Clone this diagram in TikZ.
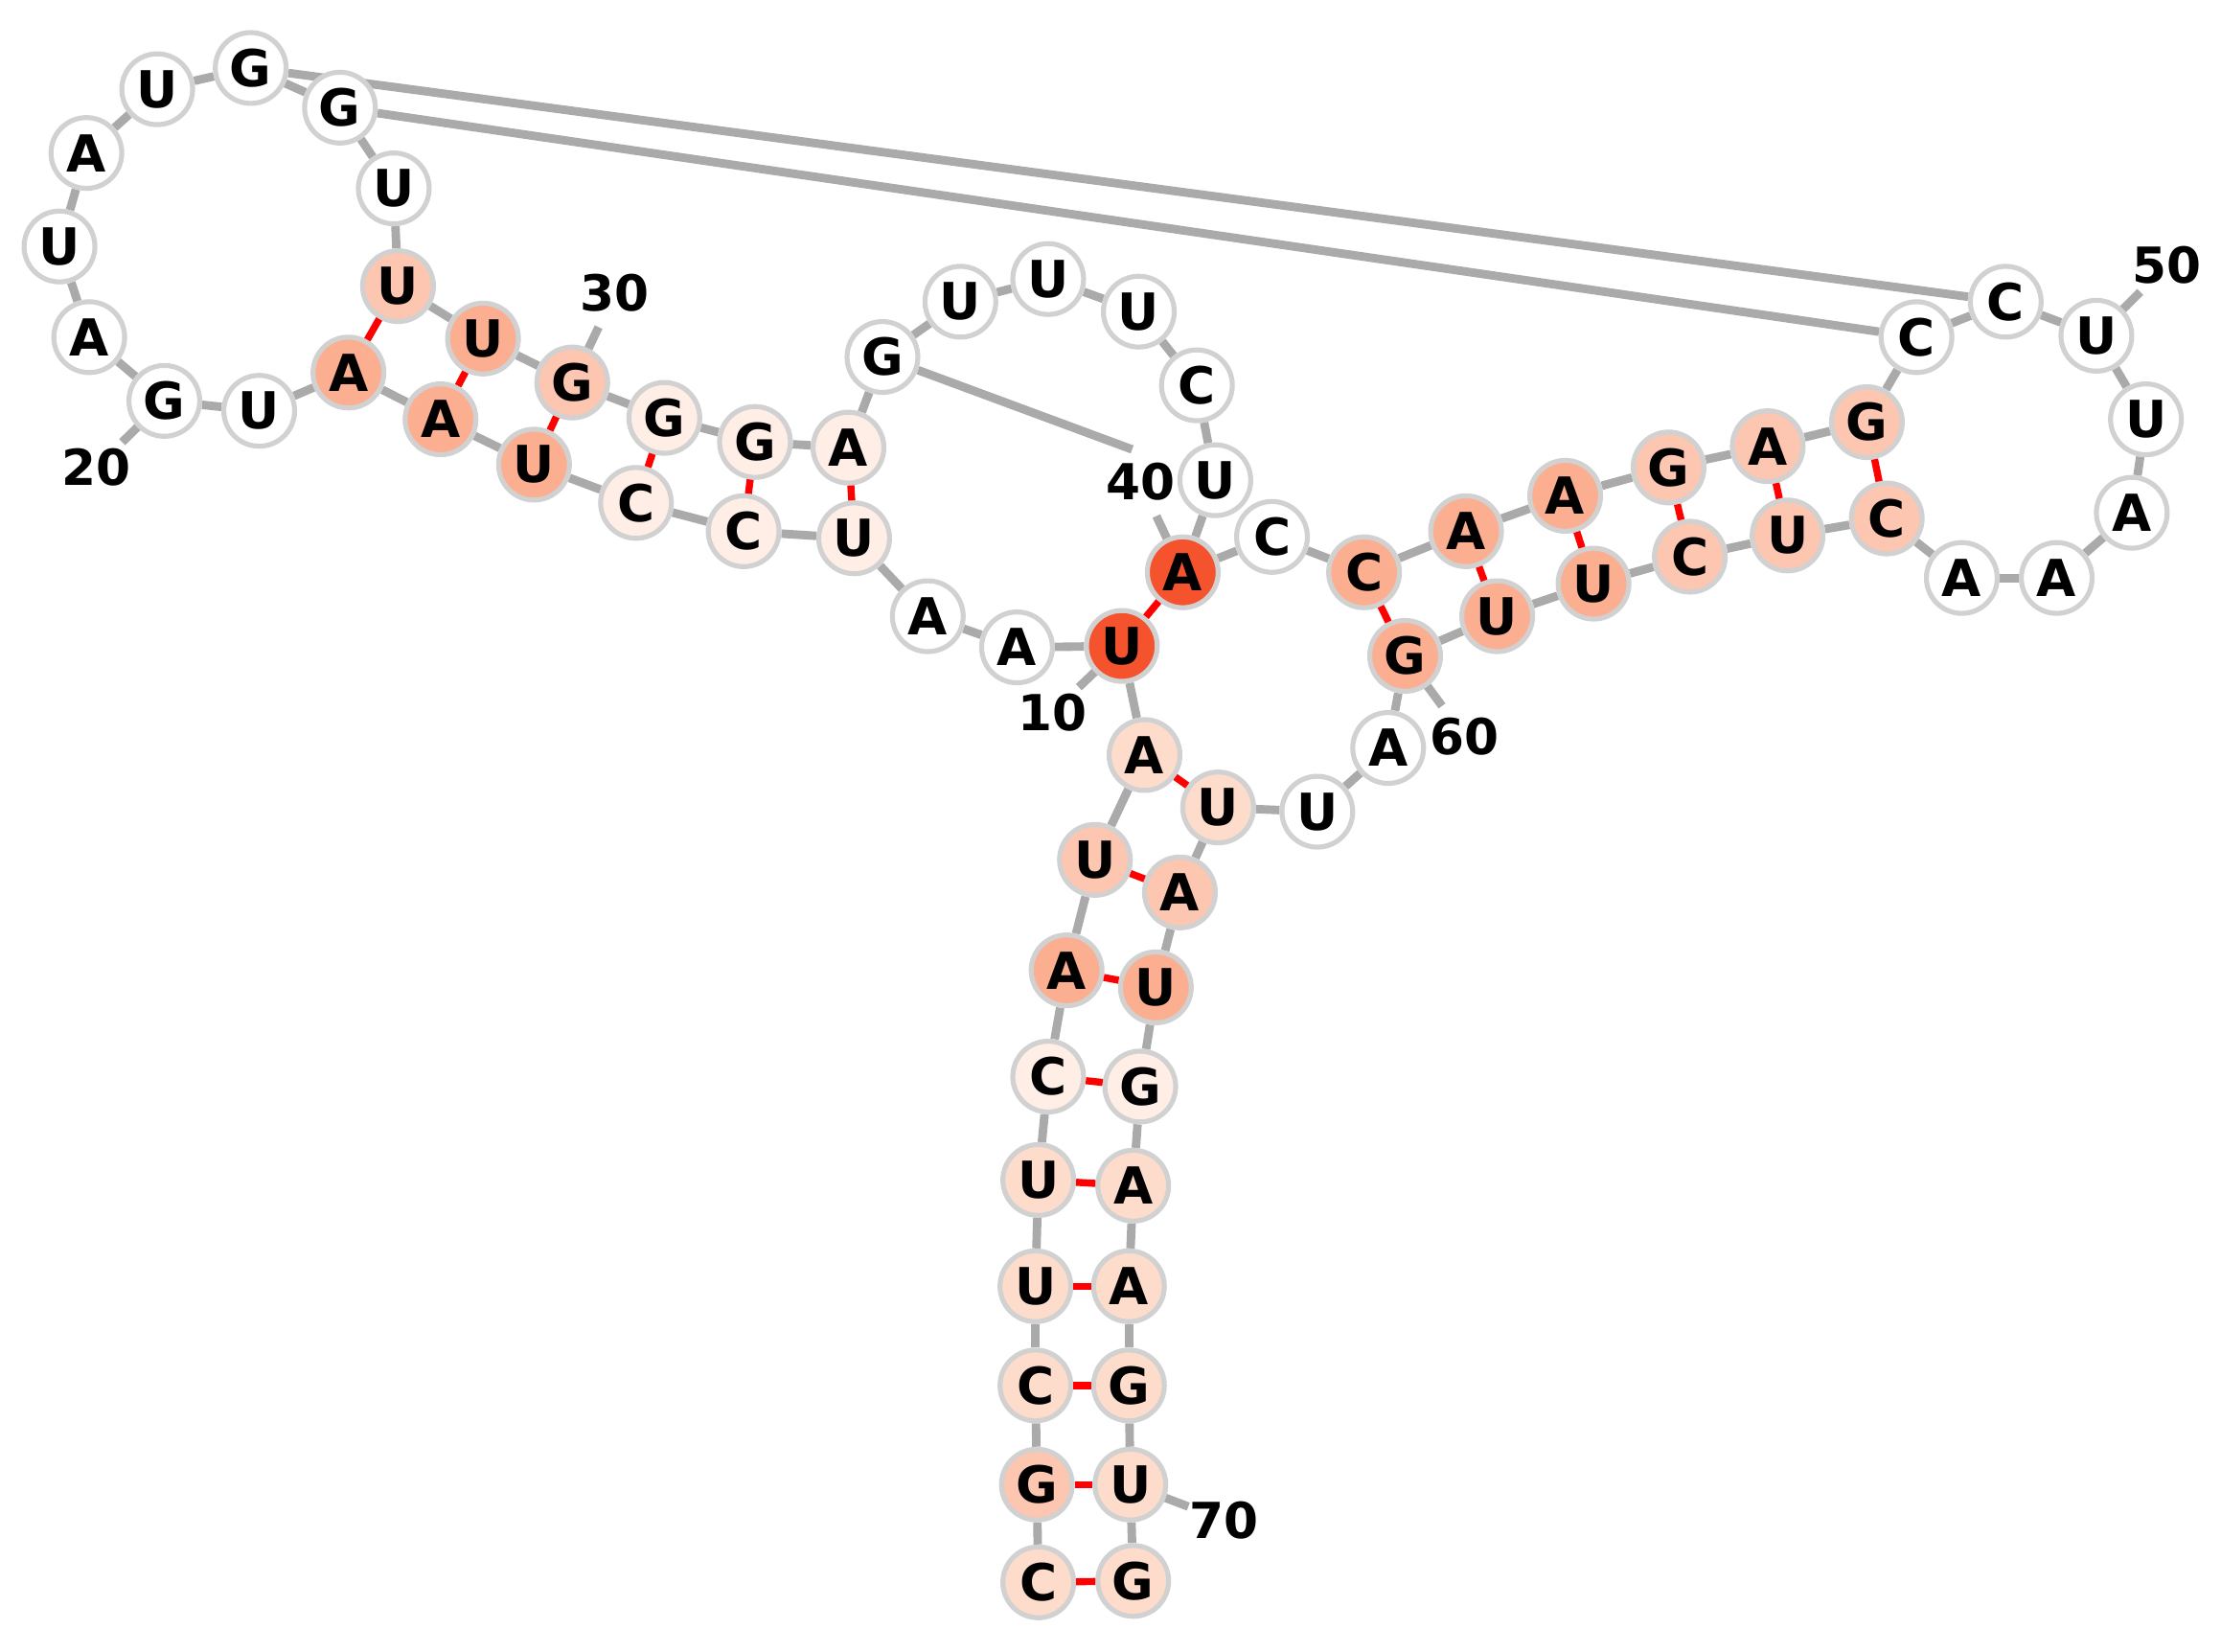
\documentclass[tikz,border=0pt]{standalone}
\usepackage{fontspec}
\setmainfont{DejaVu Sans}
\usetikzlibrary{calc,backgrounds}
\definecolor{cW}{HTML}{FFFFFF}
\definecolor{cR}{HTML}{F4532E}
\definecolor{cD}{HTML}{FCAE91}
\definecolor{cM}{HTML}{FCC6B1}
\definecolor{cL}{HTML}{FDDCCC}
\definecolor{cV}{HTML}{FEEEE6}
\definecolor{bbg}{HTML}{AAAAAA}
\tikzset{
 nt/.style={circle,draw=black!18,line width=3.5pt,minimum size=50pt,inner sep=0pt,font=\fontsize{36}{36}\selectfont\bfseries},
 bb/.style={draw=bbg,line width=6pt},
 bp/.style={draw=red,line width=5pt},
 num/.style={font=\fontsize{35}{35}\selectfont\bfseries,inner sep=0pt},
}
\begin{document}
\begin{tikzpicture}[x=1pt,y=-1pt]
\useasboundingbox (0,0) rectangle (1568,1166);
\foreach \i/\x/\y/\l/\c in {
1/733/1117/C/cL,2/732/1048/G/cM,3/731/978/C/cL,4/731/908/U/cL,5/733/833/U/cL,6/740/760/C/cV,7/753/685/A/cD,8/773/607/U/cM,9/808/533/A/cL,10/792/456/U/cR,
11/718/457/A/cW,12/655/435/A/cW,13/603/380/U/cV,14/525/375/C/cV,15/449/355/C/cV,16/377/328/U/cD,17/311/296/A/cD,18/246/263/A/cD,19/183/290/U/cW,20/116/283/G/cW,
21/63/238/A/cW,22/42/174/U/cW,23/61/108/A/cW,24/111/63/U/cW,25/177/48/G/cW,26/240/76/G/cW,27/278/133/U/cW,28/281/202/U/cM,29/341/239/U/cD,30/404/270/G/cM,
31/469/295/G/cV,32/533/312/G/cV,33/599/316/A/cV,34/623/252/G/cW,35/678/213/U/cW,36/740/197/U/cW,37/804/220/U/cW,38/845/272/C/cW,39/858/339/U/cW,40/835/404/A/cR,
41/898/379/C/cW,42/963/404/C/cD,43/1035/375/A/cD,44/1105/350/A/cD,45/1178/330/G/cM,46/1248/315/A/cM,47/1318/298/G/cM,48/1353/238/C/cW,49/1416/213/C/cW,50/1480/237/U/cW,
51/1515/296/U/cW,52/1505/362/A/cW,53/1452/408/A/cW,54/1385/408/A/cW,55/1332/366/C/cM,56/1262/378/U/cM,57/1193/393/C/cM,58/1125/412/U/cD,59/1057/435/U/cD,60/992/463/G/cD,
61/980/528/A/cW,62/930/573/U/cW,63/860/570/U/cL,64/833/630/A/cM,65/816/697/U/cD,66/805/767/G/cV,67/800/837/A/cL,68/797/908/A/cL,69/797/978/G/cL,70/798/1048/U/cL,71/800/1116/G/cL}
 {\node[nt,fill=\c] (n\i) at (\x,\y) {\l};}
\foreach \k/\x/\y in {10/743/503,20/68/330,30/434/207,40/805/340,50/1530/187,60/1034/520,70/864/1073}
 {\node[num] (l\k) at (\x,\y) {\k};}
\begin{scope}[on background layer]
\foreach \i [evaluate=\i as \j using int(\i+1)] in {1,...,70} {\draw[bb] (n\i) -- (n\j);}
\draw[bb] (n25) -- (n49); \draw[bb] (n26) -- (n48);
\coordinate (t34) at ($(n34)!0.75!(n39)$);
\draw[bb] (n34) -- (t34);
\foreach \k in {10,20,30,40,50,60,70} {\draw[bb] (n\k.center) -- ($(n\k)!0.62!(l\k)$);}
\end{scope}
\foreach \a/\b in {1/71,2/70,3/69,4/68,5/67,6/66,7/65,8/64,9/63,10/40,13/33,14/32,15/31,16/30,17/29,18/28,42/60,43/59,44/58,45/57,46/56,47/55}
 {\draw[bp] (n\a) -- (n\b);}
\end{tikzpicture}
\end{document}
